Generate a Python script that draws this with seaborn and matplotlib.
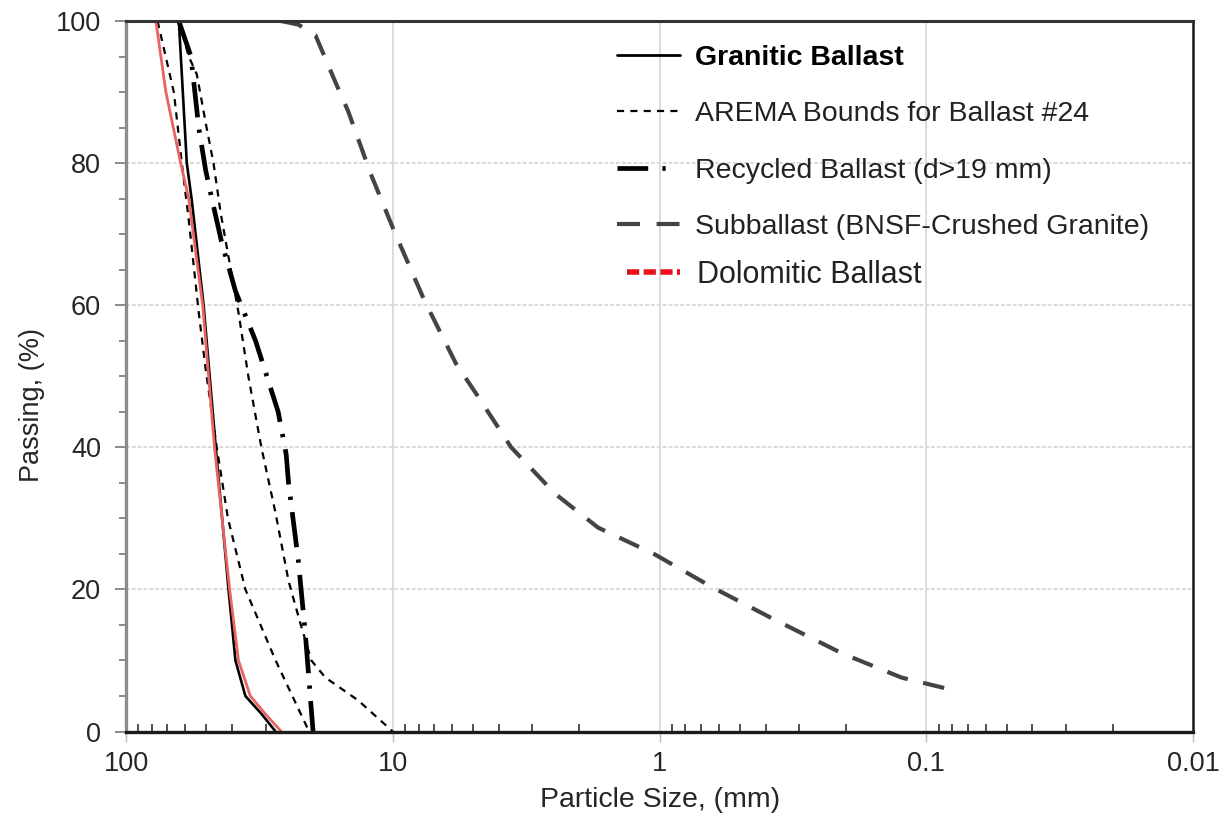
import numpy as np
import matplotlib
matplotlib.use("Agg")
import matplotlib.pyplot as plt
from matplotlib.lines import Line2D
from matplotlib.ticker import FixedLocator, FuncFormatter, LogLocator, NullFormatter
import seaborn as sns

# grain size curves (size in mm, percent passing)
granitic_size = [63.4, 59.2, 56.8, 51.2, 46.1, 41.3, 38.9, 35.7, 31.1, 27.5]
granitic_pass = [100, 80, 75, 60, 40, 20, 10, 5, 2.5, 0]

dolomitic_size = [77.3, 70.9, 62.4, 58.2, 51.6, 46.6, 40.9, 37.9, 34.2, 30.1, 26.2]
dolomitic_pass = [100, 90, 80, 75, 60, 40, 20, 10, 5, 2.5, 0]

arema_lower_size = [76.2, 66.2, 61.8, 58.2, 53.4, 50.3, 45.7, 41.5, 35.7, 27.5, 20.6]
arema_lower_pass = [100, 90, 80, 72, 59, 51, 40, 30, 20, 10, 0]

arema_upper_size = [63.4, 58.2, 54.3, 49.9, 47.0, 44.2, 37.9, 34.8, 31.1, 27.5, 24.6, 22.2, 20.2, 17.9, 13.5, 10.0]
arema_upper_pass = [100, 95, 92.5, 85, 80, 73, 59, 50, 40, 30.7, 21.2, 15.2, 10, 7.6, 4.4, 0]

recycled_size = [63.4, 57.1, 53.4, 50.3, 47.7, 43.9, 38.9, 32.7, 26.9, 25.1, 24.6, 22.6, 21.3, 20.2, 19.9]
recycled_pass = [100, 95, 85, 79, 75, 69, 62, 55, 45, 39, 35, 24, 14, 3, 0]

subballast_size = [26.2, 22.6, 19.5, 16.5, 14.7, 12.1, 9.9, 7.6, 5.8, 4.86, 3.6, 2.47, 1.70, 1.05, 0.634, 0.382, 0.207, 0.124, 0.083]
subballast_pass = [100, 99.5, 98, 91.6, 87.3, 78.5, 70.5, 60.6, 51.8, 47.5, 40, 33.5, 28.7, 25, 20.3, 16, 11, 7.6, 6]

legend_labels = ["Granitic Ballast", "AREMA Bounds for Ballast #24", "Recycled Ballast (d>19 mm)",
                 "Subballast (BNSF-Crushed Granite)", "Dolomitic Ballast"]
x_ticks = [100, 10, 1, 0.1, 0.01]
y_ticks = [0, 20, 40, 60, 80, 100]

sns.set_style("white")
plt.rcParams['font.family'] = ['Liberation Sans', 'DejaVu Sans']

fig = plt.figure(figsize=(12.31, 8.25), dpi=100)
ax = fig.add_axes([0.1024, 0.1133, 0.8668, 0.8612])
ax.set_xscale("log")

kw = dict(ax=ax, sort=False, estimator=None, legend=False)
dot_style = (0, (3.2, 2.8))
dashdot_style = (0, (7.5, 2.6, 0.7, 2.6))
dash_style = (0, (5.2, 3.8))

sns.lineplot(x=subballast_size, y=subballast_pass, color="#444444", lw=3, linestyle=dash_style, **kw)
sns.lineplot(x=arema_lower_size, y=arema_lower_pass, color="black", lw=1.6, linestyle=dot_style, **kw)
sns.lineplot(x=arema_upper_size, y=arema_upper_pass, color="black", lw=1.6, linestyle=dot_style, **kw)
sns.lineplot(x=recycled_size, y=recycled_pass, color="black", lw=3.4, linestyle=dashdot_style, **kw)
sns.lineplot(x=granitic_size, y=granitic_pass, color="black", lw=1.9, **kw)
sns.lineplot(x=dolomitic_size, y=dolomitic_pass, color="#e86464", lw=2.0, **kw)

ax.set_xlim(100, 0.01)
ax.set_ylim(0, 100)

# axis ticks
ax.xaxis.set_major_locator(FixedLocator(x_ticks))
ax.xaxis.set_major_formatter(FuncFormatter(lambda v, p: f"{v:g}"))
ax.xaxis.set_minor_locator(LogLocator(base=10, subs=np.arange(2, 10)))
ax.xaxis.set_minor_formatter(NullFormatter())
ax.set_yticks(y_ticks)
ax.set_yticks(np.arange(0, 101, 5), minor=True)

ax.tick_params(axis="x", which="major", direction="out", length=7, width=1, color="#bbbbbb",
               labelsize=19.5, pad=7, labelcolor="#262626")
ax.tick_params(axis="x", which="minor", direction="in", length=6, width=1.2, color="#333333")
ax.tick_params(axis="y", which="major", direction="out", length=8, width=1.2, color="#777777",
               labelsize=19.5, pad=10, labelcolor="#262626")
ax.tick_params(axis="y", which="minor", direction="out", length=5, width=1.2, color="#777777")
ax.tick_params(bottom=True, left=True, which="both")

# grid
ax.grid(axis="y", which="major", color="#d9d9d9", lw=1.4, linestyle=(0, (2, 1)))
ax.grid(axis="x", which="major", color="#d9d9d9", lw=1.3)
ax.set_axisbelow(True)

for side, c, w in [("left", "#8c8c8c", 2.4), ("bottom", "#1a1a1a", 2.4),
                   ("top", "#333333", 2.2), ("right", "#1a1a1a", 1.8)]:
    ax.spines[side].set_visible(True)
    ax.spines[side].set_color(c)
    ax.spines[side].set_linewidth(w)

ax.set_xlabel("Particle Size, (mm)", fontsize=20.5, color="#262626", labelpad=7)
ax.set_ylabel("Passing, (%)", fontsize=19.5, color="#262626")
ax.yaxis.set_label_coords(-0.076, 0.46)

# legend: four black/grey entries, then the red one a little tighter below
handles = [
    Line2D([], [], color="black", lw=2.0),
    Line2D([], [], color="black", lw=1.6, linestyle=(0, (3.2, 2.8))),
    Line2D([], [], color="black", lw=3.4, linestyle=(0, (6.5, 3, 0.7, 12))),
    Line2D([], [], color="#444444", lw=3, linestyle=(0, (5.5, 4))),
]
leg = ax.legend(handles, legend_labels[:4], loc="upper left", bbox_to_anchor=(0.46, 0.966),
                frameon=False, fontsize=20.5, handlelength=2.2, handletextpad=0.53,
                labelspacing=1.06, borderpad=0, borderaxespad=0)
for i, t in enumerate(leg.get_texts()):
    t.set_color("#222222")
    if i == 0:
        t.set_fontweight("bold")
        t.set_color("black")
ax.add_artist(leg)

red_handle = [Line2D([], [], color="#e8101a", lw=4, linestyle=(0, (2.2, 0.8)))]
leg2 = ax.legend(red_handle, legend_labels[4:], loc="upper left", bbox_to_anchor=(0.4695, 0.6636),
                 frameon=False, fontsize=22, handlelength=1.74, handletextpad=0.56,
                 borderpad=0, borderaxespad=0)
leg2.get_texts()[0].set_color("#222222")

fig.savefig("out.png", dpi=100)
